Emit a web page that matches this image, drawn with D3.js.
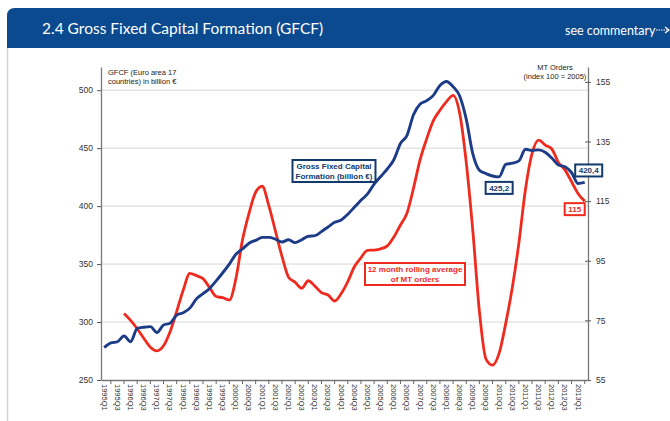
<!DOCTYPE html>
<html>
<head>
<meta charset="utf-8">
<script src="https://cdn.jsdelivr.net/npm/d3@7"></script>
<style>
  body { margin: 0; background: #fff; }
  svg { display: block; }
  text { font-family: "Liberation Sans", Arial, sans-serif; }
</style>
</head>
<body>
<div id="chart"><svg width="670" height="421"></svg></div>
<script>
// quarters 1995Q1 .. 2013Q2
var years = d3.range(1995, 2014);
var quarters = [];
years.forEach(function(y) {
    [1, 2, 3, 4].forEach(function(q) {
	if (y === 2013 && q > 2) return;
	quarters.push(y + 'Q' + q);
    });
});

// GFCF, billion euro (left axis)
var gfcf = [278, 282, 283, 288, 283, 294.5, 295.5, 296, 291, 297.5,
	    299, 306, 308, 312, 320, 324.5, 329, 335.5, 342.5, 350,
	    358.5, 363, 368, 370.5, 373, 373, 371.5, 369, 371, 368.5,
	    371, 374, 374.5, 378, 382, 386, 388, 393, 399, 405,
	    410.5, 419, 425.5, 432, 440, 454, 461, 479, 488, 491,
	    495.5, 504, 507.5, 503, 495, 475, 445, 431, 428, 426,
	    425.2, 436, 437, 439, 449, 448, 448.5, 446.5, 441.5, 435.5,
	    434, 429, 419.5, 420.4];

// MT orders, 12 month rolling average, index 2005 = 100 (right axis)
var mtOrders = [null, null, null, 77.3, 75, 72.2, 69, 66, 64.8, 66.5,
		71.2, 78, 85.2, 90.8, 90, 89, 86, 83, 82.6, 81.8,
		89, 102, 111, 118, 120, 113.5, 105, 96.5, 89.5, 87.8,
		85.8, 88.3, 86.5, 84.3, 83.5, 81.5, 84, 88, 93, 96,
		98.5, 98.6, 99, 100, 103, 107, 111, 119.5, 129, 136,
		142, 145.5, 148.4, 150.5, 144.5, 128, 105, 78, 62, 60,
		64, 74, 86, 101, 119, 131, 135.5, 133.8, 132.5, 128,
		125.5, 121.5, 117.5, 115];

var leftTicks = [250, 300, 350, 400, 450, 500];
var rightTicks = [55, 75, 95, 115, 135, 155];

(function() {
    var svg = d3.select('#chart svg'),
    navy = '#1d3c88',
    boxNavy = '#123a6c',
    red = '#ef2b1f',
    plot = {left: 101, right: 588, top: 67, bottom: 380},
    x, yL, yR, xAxis, labelled;

    // header band
    svg.append('path')
	.attr('d', 'M7,48 V16 Q7,8 15,8 H670 V48 Z')
	.attr('fill', '#0c4a8f');
    svg.append('line')
	.attr('x1', 7.5).attr('x2', 7.5).attr('y1', 48).attr('y2', 421)
	.attr('stroke', '#d4d4d4').attr('stroke-width', 1.5);
    svg.append('text')
	.attr('x', 42).attr('y', 34)
	.style('font-family', 'Lato, "Open Sans", sans-serif')
	.style('font-size', '15.5px')
	.attr('fill', '#fff')
	.text('2.4 Gross Fixed Capital Formation (GFCF)');
    svg.append('text')
	.attr('x', 565).attr('y', 35)
	.style('font-family', 'Lato, "Open Sans", sans-serif')
	.style('font-size', '12.5px')
	.attr('fill', '#fff')
	.text('see commentary');
    svg.append('line')
	.attr('x1', 656).attr('x2', 668).attr('y1', 30).attr('y2', 30)
	.attr('stroke', '#fff').attr('stroke-width', 1.2)
	.attr('stroke-dasharray', '1.5,1');
    svg.append('path')
	.attr('d', 'M665,27 L669,30 L665,33')
	.attr('fill', 'none').attr('stroke', '#fff').attr('stroke-width', 1.2);

    // scales
    x = d3.scaleBand().domain(quarters).range([plot.left, plot.right]);
    yL = d3.scaleLinear().domain([250, 520]).range([plot.bottom, plot.top]);
    yR = d3.scaleLinear().domain([55, 160]).range([plot.bottom, plot.top]);

    function cx(i) { return x(quarters[i]) + x.bandwidth() / 2; }

    // gridlines
    svg.append('g').selectAll('line')
	.data(leftTicks.slice(1))
	.join('line')
	.attr('x1', plot.left).attr('x2', plot.right)
	.attr('y1', function(d) { return yL(d); })
	.attr('y2', function(d) { return yL(d); })
	.attr('stroke', '#d6d6d6').attr('stroke-width', 1);

    // left axis
    var gl = svg.append('g')
	.attr('transform', 'translate(' + plot.left + ',0)')
	.call(d3.axisLeft(yL).tickValues(leftTicks).tickSize(4).tickPadding(4).tickSizeOuter(0));
    // right axis
    var gr = svg.append('g')
	.attr('transform', 'translate(' + plot.right + ',0)')
	.call(d3.axisRight(yR).tickValues(rightTicks).tickSize(3).tickPadding(5).tickSizeOuter(0));
    gr.selectAll('.tick line').attr('x1', -3);
    [gl, gr].forEach(function(g) {
	g.select('.domain').attr('stroke', '#777').attr('stroke-width', 1.3);
	g.selectAll('.tick line').attr('stroke', '#555');
	g.selectAll('.tick text')
	    .style('font-family', '"Liberation Sans", Arial, sans-serif')
	    .style('font-size', '8.5px').attr('fill', '#333');
    });

    // bottom axis, label every second quarter
    labelled = quarters.filter(function(d, i) { return i % 2 === 0; });
    xAxis = svg.append('g')
	.attr('transform', 'translate(0,' + plot.bottom + ')')
	.call(d3.axisBottom(x).tickValues(labelled).tickSize(0).tickPadding(3).tickSizeOuter(0));
    xAxis.select('.domain').attr('stroke', '#777').attr('stroke-width', 1.3);
    xAxis.selectAll('.tick text')
	.style('font-family', '"Liberation Sans", Arial, sans-serif')
	.style('font-size', '7.5px').attr('fill', '#333')
	.attr('transform', 'rotate(90)')
	.attr('text-anchor', 'start')
	.attr('x', 4).attr('y', 0).attr('dy', '0.35em');
    xAxis.append('g').selectAll('line')
	.data(labelled)
	.join('line')
	.attr('x1', function(d) { return x(d) + x.bandwidth() * 1.5; })
	.attr('x2', function(d) { return x(d) + x.bandwidth() * 1.5; })
	.attr('y1', 0).attr('y2', 4)
	.attr('stroke', '#666');

    // axis titles
    svg.append('text')
	.attr('x', 108).attr('y', 75)
	.style('font-size', '7.5px').attr('fill', '#222')
	.selectAll('tspan')
	.data(['GFCF (Euro area 17', 'countries) in billion €'])
	.join('tspan')
	.attr('x', 108)
	.attr('dy', function(d, i) { return i ? 8.5 : 0; })
	.text(function(d) { return d; });
    svg.append('text')
	.attr('y', 70)
	.attr('text-anchor', 'middle')
	.style('font-size', '7.5px').attr('fill', '#222')
	.selectAll('tspan')
	.data(['MT Orders', '(index 100 = 2005)'])
	.join('tspan')
	.attr('x', 555)
	.attr('dy', function(d, i) { return i ? 8.5 : 0; })
	.text(function(d) { return d; });

    // lines
    svg.append('path')
	.datum(mtOrders)
	.attr('fill', 'none')
	.attr('stroke', red)
	.attr('stroke-width', 2.8)
	.attr('stroke-linejoin', 'round')
	.attr('d', d3.line()
	      .defined(function(d) { return d !== null; })
	      .x(function(d, i) { return cx(i); })
	      .y(function(d) { return yR(d); })
	      .curve(d3.curveMonotoneX));
    svg.append('path')
	.datum(gfcf)
	.attr('fill', 'none')
	.attr('stroke', navy)
	.attr('stroke-width', 2.9)
	.attr('stroke-linejoin', 'round')
	.attr('d', d3.line()
	      .x(function(d, i) { return cx(i); })
	      .y(function(d) { return yL(d); })
	      .curve(d3.curveMonotoneX));

    // boxed labels
    function box(cxv, cyv, lines, color, w, h) {
	var g = svg.append('g');
	g.append('rect')
	    .attr('x', cxv - w / 2).attr('y', cyv - h / 2)
	    .attr('width', w).attr('height', h)
	    .attr('fill', '#fff')
	    .attr('stroke', color).attr('stroke-width', 2);
	g.append('text')
	    .attr('text-anchor', 'middle')
	    .style('font-size', '8px').style('font-weight', 'bold')
	    .attr('fill', color)
	    .selectAll('tspan')
	    .data(lines)
	    .join('tspan')
	    .attr('x', cxv)
	    .attr('y', function(d, i) { return cyv + 3 + (i - (lines.length - 1) / 2) * 9.5; })
	    .text(function(d) { return d; });
    }
    box(334, 171, ['Gross Fixed Capital', 'Formation (billion €)'], boxNavy, 83, 22);
    box(415, 274, ['12 month rolling average', 'of MT orders'], red, 100, 22);
    box(cx(60), yL(425.2) + 11, ['425,2'], boxNavy, 27, 12);
    box(cx(73) + 4, yL(420.4) - 12, ['420,4'], boxNavy, 27, 12);
    box(cx(73) - 10, yR(115) + 8, ['115'], red, 20, 12);
}).call(this);
</script>
</body>
</html>
